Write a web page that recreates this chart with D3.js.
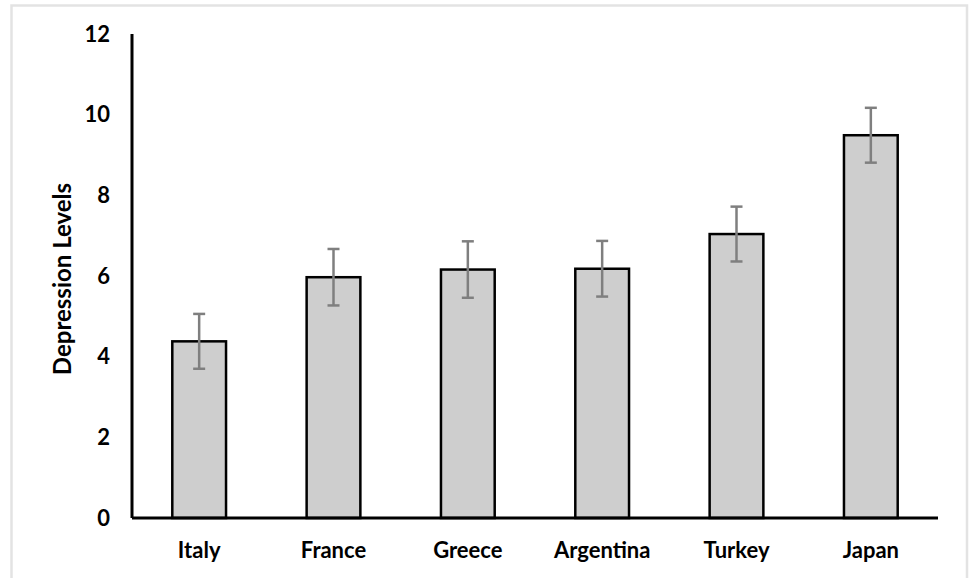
<!DOCTYPE html>
<html>
<head>
<meta charset="utf-8">
<script src="https://cdn.jsdelivr.net/npm/d3@7"></script>
<style>
  html, body { margin: 0; padding: 0; background: #ffffff; }
  svg { display: block; }
  text { font-family: Lato, "Open Sans", sans-serif; font-weight: bold; fill: #000; }
</style>
</head>
<body>
<svg id="chart" width="969" height="578"></svg>
<script>
const categories = ["Italy", "France", "Greece", "Argentina", "Turkey", "Japan"];
const values = [4.38, 5.97, 6.16, 6.18, 7.04, 9.49];
const errors = [0.68, 0.70, 0.70, 0.69, 0.68, 0.68];
const yTicks = [0, 2, 4, 6, 8, 10, 12];
const yLabel = "Depression Levels";

const svg = d3.select("#chart");

// outer frame
svg.append("rect").attr("x", 11.5).attr("y", 5.5).attr("width", 955.5).attr("height", 580)
  .attr("fill", "#fff").attr("stroke", "#e3e3e3").attr("stroke-width", 2.5);

const mLeft = 132, mRight = 938, mTop = 34, mBottom = 518;

const x = d3.scaleBand().domain(categories).range([mLeft, mRight]).paddingInner(0.6).paddingOuter(0.3);
const y = d3.scaleLinear().domain([0, 12]).range([mBottom, mTop]);

// bars
svg.append("g").selectAll("rect").data(categories).join("rect")
  .attr("x", d => x(d))
  .attr("y", (d, i) => y(values[i]))
  .attr("width", x.bandwidth())
  .attr("height", (d, i) => y(0) - y(values[i]))
  .attr("fill", "#cecece")
  .attr("stroke", "#000")
  .attr("stroke-width", 2.5);

// error bars
const eg = svg.append("g").attr("stroke", "#7f7f7f").attr("stroke-width", 2.5);
categories.forEach((c, i) => {
  const cx = x(c) + x.bandwidth() / 2;
  const y1 = y(values[i] + errors[i]), y0 = y(values[i] - errors[i]);
  eg.append("line").attr("x1", cx).attr("x2", cx).attr("y1", y1).attr("y2", y0);
  eg.append("line").attr("x1", cx - 6).attr("x2", cx + 6).attr("y1", y1).attr("y2", y1);
  eg.append("line").attr("x1", cx - 6).attr("x2", cx + 6).attr("y1", y0).attr("y2", y0);
});

// y axis
const yAxis = d3.axisLeft(y).tickValues(yTicks).tickSize(0).tickPadding(22);
const yg = svg.append("g").attr("transform", `translate(${mLeft},0)`).call(yAxis);
yg.select(".domain").attr("stroke", "#000").attr("stroke-width", 3).attr("d", `M0,${mBottom}V${mTop}`);
yg.selectAll("text").attr("font-size", 22).attr("font-family", "Lato, sans-serif").attr("font-weight", "bold").attr("fill", "#000");

// x axis
const xAxis = d3.axisBottom(x).tickSize(0).tickPadding(24);
const xg = svg.append("g").attr("transform", `translate(0,${mBottom})`).call(xAxis);
xg.select(".domain").attr("stroke", "#000").attr("stroke-width", 3).attr("d", `M${mLeft},0H${mRight}`);
xg.selectAll("text").attr("font-size", 22).attr("font-family", "Lato, sans-serif").attr("font-weight", "bold").attr("fill", "#000");

// y label
svg.append("text")
  .attr("transform", `translate(71,${(mTop + mBottom) / 2 + 3}) rotate(-90)`)
  .attr("text-anchor", "middle")
  .attr("font-size", 24)
  .text(yLabel);
</script>
</body>
</html>
